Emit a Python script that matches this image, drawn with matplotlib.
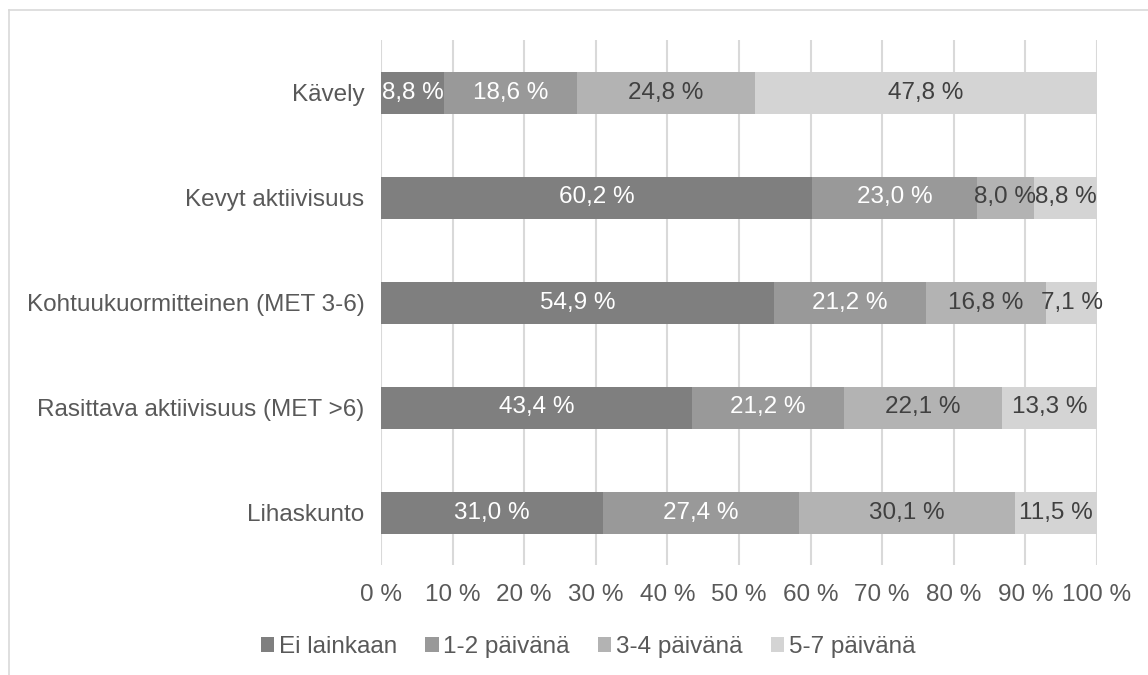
import matplotlib.pyplot as plt
from matplotlib.lines import Line2D
from matplotlib.patches import Patch

plt.rcParams["font.family"] = ["Liberation Sans", "DejaVu Sans"]

categories = ["Kävely", "Kevyt aktiivisuus", "Kohtuukuormitteinen (MET 3-6)",
              "Rasittava aktiivisuus (MET >6)", "Lihaskunto"]
series_names = ["Ei lainkaan", "1-2 päivänä", "3-4 päivänä", "5-7 päivänä"]
ei_lainkaan = [8.8, 60.2, 54.9, 43.4, 31.0]
paiva_1_2 = [18.6, 23.0, 21.2, 21.2, 27.4]
paiva_3_4 = [24.8, 8.0, 16.8, 22.1, 30.1]
paiva_5_7 = [47.8, 8.8, 7.1, 13.3, 11.5]
x_ticks = list(range(0, 101, 10))
x_tick_labels = [f"{t} %" for t in x_ticks]

colors = ["#7f7f7f", "#999999", "#b3b3b3", "#d4d4d4"]
label_colors = ["white", "white", "#404040", "#404040"]
text_color = "#595959"
grid_color = "#d9d9d9"
fs = 17.5

fig = plt.figure(figsize=(11.48, 6.75), dpi=100)
ax = fig.add_axes([381 / 1148, 1 - 565 / 675, (1097 - 381) / 1148, (565 - 40) / 675])

y = list(range(len(categories)))
left = [0.0] * len(categories)
for vals, col, lcol in zip([ei_lainkaan, paiva_1_2, paiva_3_4, paiva_5_7],
                           colors, label_colors):
    bars = ax.barh(y, vals, left=left, height=0.4, color=col, zorder=3)
    ax.bar_label(bars, labels=[f"{v:.1f} %".replace(".", ",") for v in vals],
                 label_type="center", color=lcol, fontsize=fs, zorder=4)
    left = [a + b for a, b in zip(left, vals)]

ax.set_xlim(0, 100)
ax.set_ylim(len(categories) - 0.5, -0.5)
ax.set_xticks(x_ticks)
ax.set_xticklabels(x_tick_labels)
ax.set_yticks(y)
ax.set_yticklabels(categories)
ax.tick_params(axis="both", length=0, labelsize=fs, colors=text_color)
ax.tick_params(axis="x", pad=14)
ax.tick_params(axis="y", pad=12)
ax.xaxis.grid(True, color=grid_color, lw=1.5, zorder=0)
for s in ax.spines.values():
    s.set_visible(False)

handles = [Patch(facecolor=c, edgecolor="none") for c in colors]
fig.legend(handles, series_names, loc="center", bbox_to_anchor=(588 / 1148, 1 - 647 / 675),
           ncol=4, frameon=False, fontsize=fs, labelcolor=text_color,
           handlelength=0.55, handleheight=0.55, handletextpad=0.2,
           columnspacing=1.15, borderpad=0)

# chart area border
fig.add_artist(Line2D([9 / 1148, 9 / 1148], [0, 1 - 10 / 675], color=grid_color, lw=1.2))
fig.add_artist(Line2D([9 / 1148, 1], [1 - 10 / 675, 1 - 10 / 675], color=grid_color, lw=1.2))

fig.savefig("out.png", dpi=100)
